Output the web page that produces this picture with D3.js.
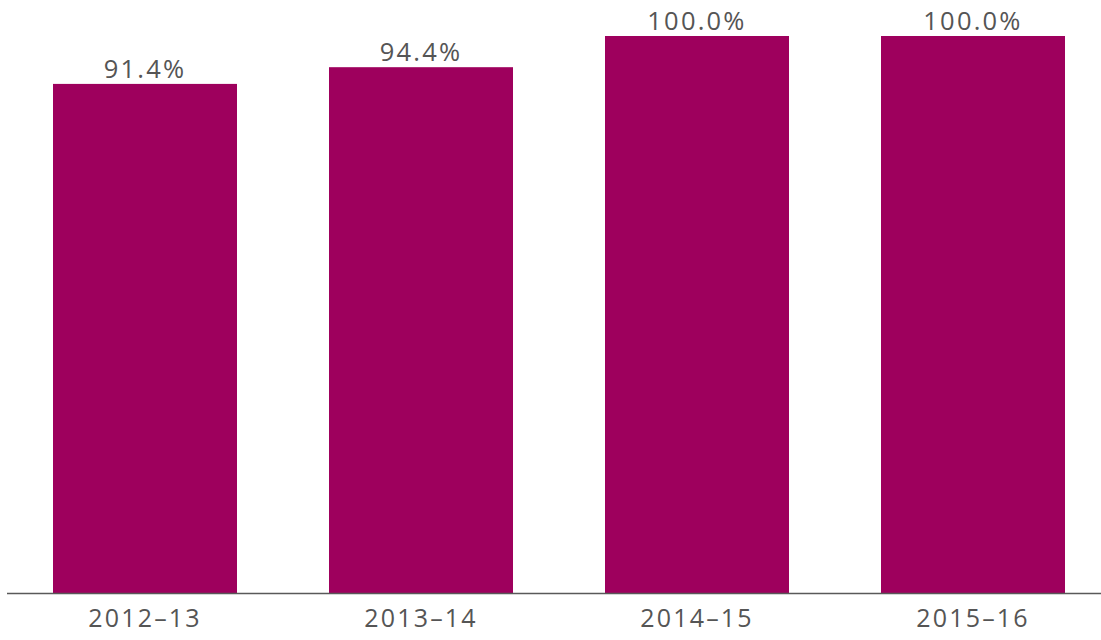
<!DOCTYPE html>
<html>
<head>
<meta charset="utf-8">
<script src="https://cdnjs.cloudflare.com/ajax/libs/d3/7.8.5/d3.min.js"></script>
<style>
  html, body { margin: 0; padding: 0; background: #fff; }
  svg text { font-family: "Open Sans", "Liberation Sans", sans-serif; fill: #555; letter-spacing: 2.2px; }
</style>
</head>
<body>
<svg id="chart"></svg>
<script>
const years = ["2012\u201313", "2013\u201314", "2014\u201315", "2015\u201316"];
const shares = [91.4, 94.4, 100.0, 100.0];

const width = 1101, height = 640;
const svg = d3.select("#chart").attr("width", width).attr("height", height);

const x = d3.scaleBand()
    .domain(years)
    .range([7, 1111])
    .paddingInner(1 / 3)
    .paddingOuter(1 / 6);

const y = d3.scaleLinear().domain([0, 100]).range([593, 36]);

// bars
svg.selectAll(".bar")
    .data(years)
    .enter().append("rect")
    .attr("class", "bar")
    .attr("x", d => x(d))
    .attr("width", x.bandwidth())
    .attr("y", (d, i) => y(shares[i]))
    .attr("height", (d, i) => y(0) - y(shares[i]))
    .attr("fill", "#9e005d");

// value labels
svg.selectAll(".val")
    .data(years)
    .enter().append("text")
    .attr("class", "val")
    .attr("x", d => x(d) + x.bandwidth() / 2)
    .attr("y", (d, i) => y(shares[i]) - 6)
    .attr("text-anchor", "middle")
    .attr("font-size", 25.5)
    .text((d, i) => shares[i].toFixed(1) + "%");

// x axis
const xAxis = svg.append("g")
    .attr("transform", `translate(0,${y(0)})`)
    .call(d3.axisBottom(x).tickSize(0).tickPadding(29));
xAxis.select(".domain").remove();
xAxis.selectAll("text")
    .attr("font-size", 25)
    .attr("dy", "0.2em")
    .style("font-family", null);

svg.append("line")
    .attr("x1", 7).attr("x2", 1101)
    .attr("y1", y(0) + 0.5).attr("y2", y(0) + 0.5)
    .attr("stroke", "#595959")
    .attr("stroke-width", 1.3);
</script>
</body>
</html>
